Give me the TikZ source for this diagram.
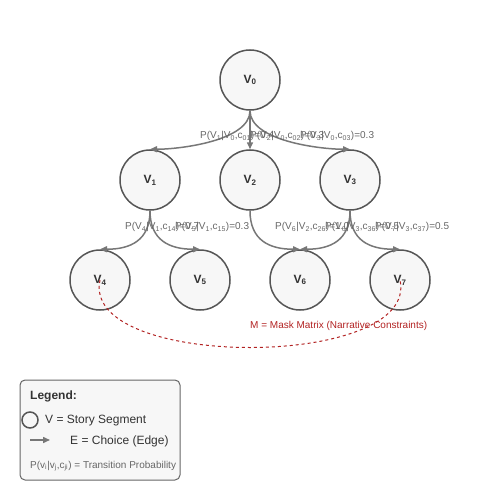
\documentclass[tikz,border=0pt]{standalone}
\usepackage{fontspec}
\setmainfont{Liberation Sans}
\usetikzlibrary{arrows.meta}
\definecolor{nodegray}{HTML}{555555}
\definecolor{fillgray}{HTML}{F7F7F7}
\definecolor{edgegray}{HTML}{777777}
\definecolor{labelgray}{HTML}{666666}
\definecolor{maskred}{HTML}{B22222}
\newcommand{\ssub}[1]{\textsubscript{#1}}
\newcommand{\tprob}[3]{P(V\ssub{#1}|V\ssub{#2},c\ssub{#2#1})=#3}
\begin{document}
\begin{tikzpicture}[x=1pt, y=-1pt,
    segment/.style={circle, draw=nodegray, fill=fillgray, line width=1.5pt,
        minimum size=60pt, inner sep=0pt, text=black!80,
        font=\bfseries\fontsize{12}{14}\selectfont},
    choice/.style={draw=edgegray, line width=1.5pt, -{Triangle[length=7pt,width=6pt]}},
    problabel/.style={anchor=west, inner sep=0pt, text=labelgray,
        font=\fontsize{10}{12}\selectfont}]
            \useasboundingbox (0,0) rectangle (500,500);
            % story segments
            \node[segment] (v0) at (250,80) {V\ssub{0}};
            \node[segment] (v1) at (150,180) {V\ssub{1}};
            \node[segment] (v2) at (250,180) {V\ssub{2}};
            \node[segment] (v3) at (350,180) {V\ssub{3}};
            \node[segment] (v4) at (100,280) {V\ssub{4}};
            \node[segment] (v5) at (200,280) {V\ssub{5}};
            \node[segment] (v6) at (300,280) {V\ssub{6}};
            \node[segment] (v7) at (400,280) {V\ssub{7}};
            % choices
            \draw[choice] (v0.south) .. controls +(0,30) and +(30,0) .. (v1.north);
            \draw[choice] (v0) -- (v2);
            \draw[choice] (v0.south) .. controls +(0,30) and +(-30,0) .. (v3.north);
            \draw[choice] (v1.south) .. controls +(0,30) and +(30,0) .. (v4.north);
            \draw[choice] (v1.south) .. controls +(0,30) and +(-30,0) .. (v5.north);
            \draw[choice] (v2.south) .. controls +(0,30) and +(-30,0) .. (v6.north);
            \draw[choice] (v3.south) .. controls +(0,30) and +(30,0) .. (v6.north);
            \draw[choice] (v3.south) .. controls +(0,30) and +(-30,0) .. (v7.north);
            % transition probabilities
            \node[problabel] (p01) at (200,136) {\tprob{1}{0}{0.4}};
            \node[problabel] (p02) at (250,136) {\tprob{2}{0}{0.3}};
            \node[problabel] (p03) at (300,136) {\tprob{3}{0}{0.3}};
            \node[problabel] (p14) at (125,227) {\tprob{4}{1}{0.7}};
            \node[problabel] (p15) at (175,227) {\tprob{5}{1}{0.3}};
            \node[problabel] (p26) at (275,227) {\tprob{6}{2}{1.0}};
            \node[problabel] (p36) at (325,227) {\tprob{6}{3}{0.5}};
            \node[problabel] (p37) at (375,227) {\tprob{7}{3}{0.5}};
            % mask constraint
            \draw[maskred, line width=1pt, dash pattern=on 3pt off 3pt]
                (v4.center) .. controls +(-20,90) and +(20,90) .. (v7.center);
            \node[problabel, text=maskred] (mask) at (250,326) {M = Mask Matrix (Narrative Constraints)};
            % legend
            \draw[draw=labelgray, fill=fillgray, line width=1pt, rounded corners=5pt]
                (20,380) rectangle (180,480);
            \node[anchor=west, inner sep=0pt, text=black!80, font=\bfseries\fontsize{12}{14}\selectfont]
                (legtitle) at (30,396) {Legend:};
            \node[circle, draw=nodegray, line width=1.5pt, minimum size=16pt, inner sep=0pt]
                (legseg) at (30,420) {};
            \node[anchor=west, inner sep=0pt, text=black!80, font=\fontsize{12}{14}\selectfont]
                (legsegtext) at (45,421) {V = Story Segment};
            \coordinate (legfrom) at (30,440);
            \coordinate (legto) at (50,440);
            \draw[choice] (legfrom) -- (legto);
            \node[anchor=west, inner sep=0pt, text=black!80, font=\fontsize{12}{14}\selectfont]
                (legedgetext) at (70,441) {E = Choice (Edge)};
            \node[problabel] (legprob) at (30,466) {P(v\ssub{i}|v\ssub{j},c\ssub{ji}) = Transition Probability};

        \end{tikzpicture}
\end{document}
